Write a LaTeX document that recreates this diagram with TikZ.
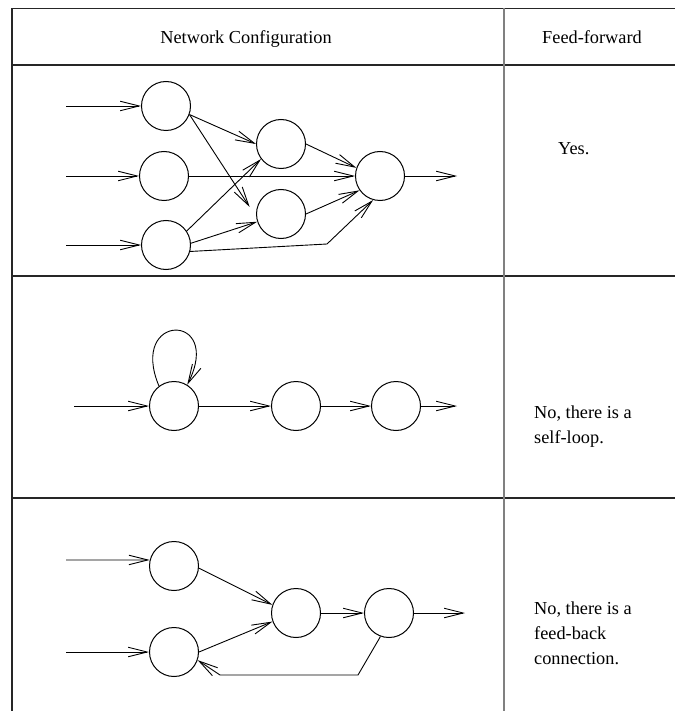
\documentclass[tikz,border=0pt]{standalone}
\usepackage{fontspec}
\setmainfont{Liberation Serif}
\usetikzlibrary{arrows.meta}
\begin{document}
\begin{tikzpicture}[x=1pt,y=-1pt,
  neuron/.style={circle,draw,line width=1pt,minimum size=49pt,inner sep=0pt},
  conn/.style={line width=0.9pt,-{Straight Barb[length=19pt,width=9.5pt]}},
  rule/.style={line width=1.3pt,draw=black!85},
  divider/.style={line width=1.8pt,draw=black!50},
  celltext/.style={font=\fontsize{18.3}{25}\selectfont,inner sep=0pt}
]
\fill[white] (0,0) rectangle (675,711);
\useasboundingbox (0,0) rectangle (675,711);

% table rules
\draw[rule] (12,8.5) -- (675,8.5);
\draw[rule] (12,65) -- (675,65);
\draw[rule] (12,276) -- (675,276);
\draw[rule] (12,498) -- (675,498);
\draw[rule] (12,8.5) -- (12,711);
\draw[divider] (504,8.5) -- (504,711);

% headings and answers (base anchor of a multi-line cell is its last line)
\node[celltext,anchor=base] (h1) at (246,44) {Network Configuration};
\node[celltext,anchor=base] (h2) at (592,44) {Feed-forward};
\node[celltext,anchor=base west] (t1) at (558,155) {Yes.};
\node[celltext,anchor=base west,align=left] (t2) at (534,443) {No, there is a\\self-loop.};
\node[celltext,anchor=base west,align=left] (t3) at (534,664) {No, there is a\\feed-back\\connection.};

% ---- first network: layered, feed-forward
\node[neuron] (A1) at (166,106) {};
\node[neuron] (A2) at (164,176) {};
\node[neuron] (A3) at (166,245) {};
\node[neuron] (B1) at (281,144) {};
\node[neuron] (B2) at (281,214) {};
\node[neuron] (C)  at (380,176) {};
\coordinate (i1) at (66,106);
\coordinate (i2) at (66,176);
\coordinate (i3) at (66,245);
\coordinate (o1) at (457,176);
\coordinate (k1) at (327,244);
\draw[conn] (i1) -- (A1);
\draw[conn] (i2) -- (A2);
\draw[conn] (i3) -- (A3);
\draw[conn] (A1.-20) -- (B1.180);
\draw[conn,shorten >=12pt] (A1.-20) -- (B2.187);
\draw[conn] (A2) -- (C);
\draw[conn] (A3.34) -- (B1.217);
\draw[conn] (A3.4) -- (B2.198);
\draw[conn] (A3.-15) -- (k1) -- (C.254);
\draw[conn] (B1.east) -- (C.161);
\draw[conn] (B2.east) -- (C.215);
\draw[conn] (C) -- (o1);

% ---- second network: chain with a self-loop
\node[neuron] (R1) at (174,406) {};
\node[neuron] (R2) at (296,406) {};
\node[neuron] (R3) at (396,406) {};
\coordinate (i4) at (74,406);
\coordinate (o2) at (457,406);
\draw[conn] (i4) -- (R1);
\draw[conn] (R1) -- (R2);
\draw[conn] (R2) -- (R3);
\draw[conn] (R3) -- (o2);
\draw[conn] (R1.127) .. controls (128,312) and (224,312) .. (R1.58);

% ---- third network: with a feed-back connection
\node[neuron] (N1) at (174,566) {};
\node[neuron] (N2) at (174,652) {};
\node[neuron] (N3) at (296,613) {};
\node[neuron] (N4) at (389,613) {};
\coordinate (i5) at (66,560);
\coordinate (i6) at (66,652);
\coordinate (o3) at (465,613);
\coordinate (k2) at (358,675);
\coordinate (k3) at (220,675);
\draw[conn] (i5) -- (N1.166);
\draw[conn] (i6) -- (N2);
\draw[conn] (N1.-5) -- (N3.161);
\draw[conn] (N2.east) -- (N3.200);
\draw[conn] (N3) -- (N4);
\draw[conn] (N4) -- (o3);
\draw[conn] (N4.250) -- (k2) -- (k3) -- (N2.-19);
\end{tikzpicture}
\end{document}
